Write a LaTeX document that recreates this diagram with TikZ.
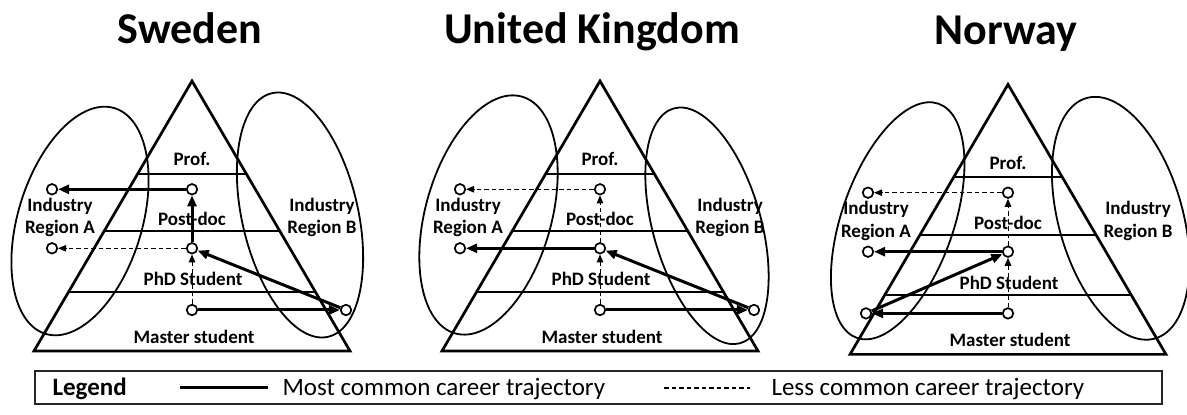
\documentclass[tikz,border=0pt]{standalone}
\usepackage{fontspec}
\setmainfont{Carlito}
\usetikzlibrary{arrows.meta,calc}

\tikzset{
    stage/.style={circle,draw,fill=white,line width=1.7pt,minimum size=10.5pt,inner sep=0pt},
    common/.style={line width=3pt,-{Triangle[length=11pt,width=9pt]}},
    rare/.style={line width=1pt,dash pattern=on 4.5pt off 3pt,-{Triangle[length=8pt,width=6.5pt]}},
    level/.style={anchor=base,font=\fontsize{19}{22}\selectfont\bfseries},
    region/.style={align=center,font=\fontsize{19}{22.8}\selectfont\bfseries},
    country/.style={anchor=base,font=\fontsize{44}{50}\selectfont\bfseries},
    legendtext/.style={anchor=base west,font=\fontsize{25}{30}\selectfont}
}

\begin{document}
\begin{tikzpicture}[x=1pt,y=1pt]

        % Background
        \fill[white] (0,0) rectangle (1187,415);
        \useasboundingbox (0,0) rectangle (1187,415);

        % Titles
        \node[country] (se-title) at (190,371) {Sweden};
        \node[country] (uk-title) at (592,371) {United Kingdom};
        \node[country] (no-title) at (1006,370) {Norway};

        % Pyramids, industry regions and career stages
        \foreach \p/\cx/\dy/\lx/\ly/\la/\lb/\lr/\rx/\ry/\ra/\rb/\rr/\sx in {
            se/192/0/-112/194/62/118/-17/108/200/58/125/13/154,
            uk/600/0/-111.5/200/63/123/-15.7/107/189.2/54/122/15.8/154,
            no/1008/-3.4/-110.3/197.6/56/124/-19.2/112.7/200.1/62/125/15.9/-142} {
            \begin{scope}[shift={(\cx,\dy)}]
                \coordinate (\p-apex) at (0,334);
                \coordinate (\p-bl) at (-158,64);
                \coordinate (\p-br) at (158,64);
                \draw[line width=2.7pt] (\p-apex) -- (\p-bl) -- (\p-br) -- cycle;
                \foreach \f in {0.3426,0.557,0.781}
                    \draw[line width=2pt] ($(\p-apex)!\f!(\p-bl)$) -- ($(\p-apex)!\f!(\p-br)$);
                % Industry regions
                \draw[line width=1.8pt] (\lx,\ly) circle [x radius=\la,y radius=\lb,rotate=\lr];
                \draw[line width=1.8pt] (\rx,\ry) circle [x radius=\ra,y radius=\rb,rotate=\rr];
                % Labels
                \node[level] (\p-prof) at (0,249) {Prof.};
                \node[level] (\p-postdoc) at (0,189) {Post-doc};
                \node[level] (\p-phd) at (1,129) {PhD Student};
                \node[level] (\p-master) at (2,71.7) {Master student};
                \node[region] (\p-ia) at (-132,197.5) {Industry\\Region A};
                \node[region] (\p-ib) at (130,197.5) {Industry\\Region B};
                % Stages
                \node[stage] (\p-t) at (0,225.7) {};
                \node[stage] (\p-m) at (0,166.7) {};
                \node[stage] (\p-b) at (0,105) {};
                \node[stage] (\p-lt) at (-140,225.7) {};
                \node[stage] (\p-lm) at (-140,166.7) {};
                \node[stage] (\p-s) at (\sx,105) {};
            \end{scope}
        }

        % Career trajectories
        \foreach \src/\dst/\kind in {se-t/se-lt/common,se-m/se-t/common,se-m/se-lm/rare,
            se-b/se-m/rare,se-b/se-s/common,se-s/se-m/common,
            uk-t/uk-lt/rare,uk-m/uk-t/rare,uk-m/uk-lm/common,
            uk-b/uk-m/rare,uk-b/uk-s/common,uk-s/uk-m/common,
            no-t/no-lt/rare,no-m/no-t/rare,no-m/no-lm/common,
            no-b/no-m/rare,no-b/no-s/common,no-s/no-m/common} {
            \draw[\kind] (\src) -- (\dst);
        }

        % Legend
        \draw[line width=1.2pt,draw=black!85] (35,11) rectangle (1162,44);
        \node[legendtext,font=\fontsize{25}{30}\selectfont\bfseries] (legend) at (49,19.5) {Legend};
        \coordinate (most-a) at (180,27);
        \coordinate (most-b) at (268,27);
        \draw[line width=3pt] (most-a) -- (most-b);
        \node[legendtext] (most) at (279,19.5) {Most common career trajectory};
        \coordinate (less-a) at (664,27);
        \coordinate (less-b) at (750,27);
        \draw[line width=1.2pt,dash pattern=on 4.5pt off 3pt] (less-a) -- (less-b);
        \node[legendtext] (less) at (768,19.5) {Less common career trajectory};

\end{tikzpicture}
\end{document}
